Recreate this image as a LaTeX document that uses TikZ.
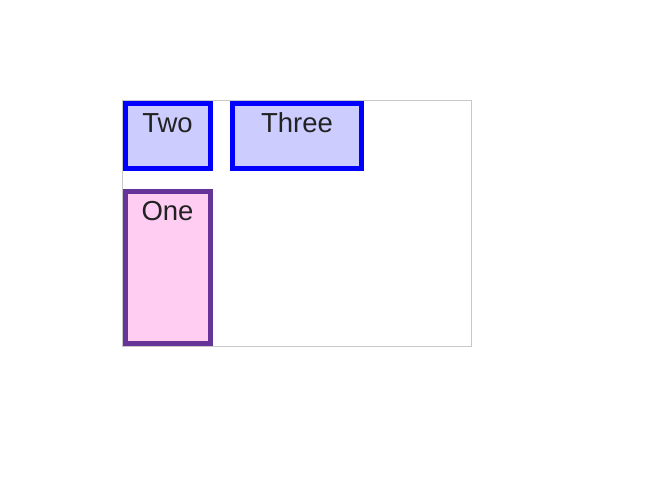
\documentclass[tikz,border=0pt]{standalone}
\usepackage{fontspec}
\setmainfont{Liberation Sans}
\definecolor{boxblue}{RGB}{0,0,255}
\definecolor{fillblue}{RGB}{204,204,255}
\definecolor{boxpurple}{RGB}{102,51,153}
\definecolor{fillpink}{RGB}{255,204,242}
\definecolor{framegray}{RGB}{200,200,200}
\definecolor{txt}{RGB}{34,34,34}
\begin{document}
\begin{tikzpicture}[x=1pt,y=-1pt,
  itembox/.style={line width=5pt},
  label/.style={anchor=base,inner sep=0pt,text=txt,font=\fontsize{27.5}{31}\selectfont}]
\useasboundingbox (0,0) rectangle (646,483);
% container
\draw[framegray,line width=1pt] (122.5,100.5) rectangle (471.5,346.5);
% Two
\draw[itembox,draw=boxblue,fill=fillblue] (125.5,103.5) rectangle (210.5,168.5);
\node[label] (two) at (167.5,132.5) {Two};
% Three
\draw[itembox,draw=boxblue,fill=fillblue] (232.5,103.5) rectangle (361.5,168.5);
\node[label] (three) at (297,132.5) {Three};
% One
\draw[itembox,draw=boxpurple,fill=fillpink] (125.5,191.5) rectangle (210.5,343.5);
\node[label] (one) at (167.5,220.5) {One};
\end{tikzpicture}
\end{document}
